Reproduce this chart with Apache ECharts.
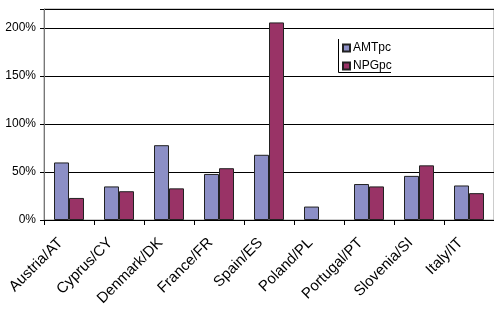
<!DOCTYPE html>
<html><head><meta charset="utf-8">
<script src="https://cdn.jsdelivr.net/npm/echarts@6/dist/echarts.min.js"></script>
<style>html,body{margin:0;padding:0;background:#fff}#c{width:494px;height:309px}</style>
</head><body><div id="c"></div>
<script>
var categories = ['Austria/AT','Cyprus/CY','Denmark/DK','France/FR','Spain/ES','Poland/PL','Portugal/PT','Slovenia/SI','Italy/IT'];
var amtpc = [60, 35, 78, 48, 68, 14, 37.5, 46, 36];
var npgpc = [23, 30, 33, 54, 206, null, 35, 57, 28]; // Poland: no NPGpc bar
var yTicks = [0, 50, 100, 150, 200];

var chart = echarts.init(document.getElementById('c'), null, {renderer:'canvas'});
var font = 'Liberation Sans, Arial, sans-serif';
chart.setOption({
  animation: false,
  textStyle: {fontFamily: font},
  grid: {left: 44, right: 0, top: 9, bottom: 89, show: true, borderColor: '#999', borderWidth: 1},
  legend: {
    data: ['AMTpc','NPGpc'], orient: 'vertical', left: 337, top: 37,
    itemWidth: 7, itemHeight: 7, itemGap: 6,
    icon: 'rect',
    textStyle: {fontFamily: font, fontSize: 12, color: '#000', padding: [0,0,0,-2]}
  },
  xAxis: {
    type: 'category', data: categories,
    axisLine: {lineStyle: {color: '#000', width: 1}},
    axisTick: {show: true, length: 5, lineStyle: {color: '#000'}},
    axisLabel: {rotate: 45, fontSize: 15, color: '#000', fontFamily: font, margin: 12, interval: 0,
      padding: [0, 12, 0, 0]}
  },
  yAxis: {
    type: 'value', min: 0, max: 220, interval: 50,
    axisLine: {show: true, lineStyle: {color: '#777'}},
    axisTick: {show: true, length: 4, lineStyle: {color: '#000'}},
    axisLabel: {fontSize: 12, color: '#000', fontFamily: font, margin: 8,
      formatter: function(v){ return yTicks.indexOf(v) >= 0 ? v + '%' : ''; }},
    splitLine: {lineStyle: {color: '#000', width: 1}}
  },
  series: [
    {name: 'AMTpc', type: 'bar', data: amtpc, barGap: '0%', barCategoryGap: '40%',
     itemStyle: {color: '#8c8fc6', borderColor: '#222', borderWidth: 1}},
    {name: 'NPGpc', type: 'bar', data: npgpc,
     itemStyle: {color: '#993366', borderColor: '#222', borderWidth: 1}}
  ],
  graphic: [
    {type: 'polyline', shape: {points: [[338.5,39],[338.5,72.5],[391,72.5]]}, style: {stroke: '#000', lineWidth: 1, fill: null}}
  ]
});
</script></body></html>
